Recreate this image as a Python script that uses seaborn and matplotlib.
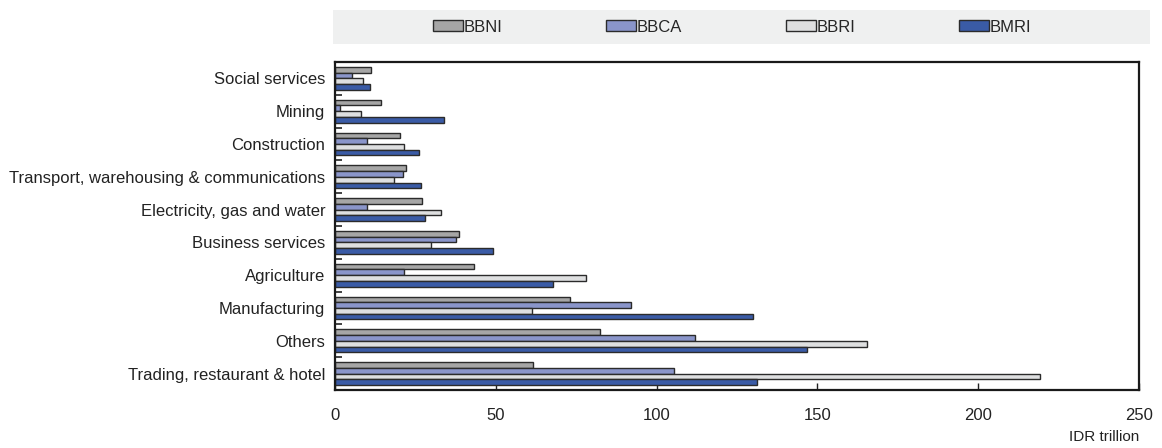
import matplotlib
matplotlib.use("Agg")
import matplotlib.pyplot as plt
from matplotlib.patches import Rectangle
from matplotlib.ticker import FixedLocator
import seaborn as sns
import pandas as pd

# Loans by economic sector for the four largest banks (IDR trillion)
sectors = [
    "Social services",
    "Mining",
    "Construction",
    "Transport, warehousing & communications",
    "Electricity, gas and water",
    "Business services",
    "Agriculture",
    "Manufacturing",
    "Others",
    "Trading, restaurant & hotel",
]
banks = ["BBNI", "BBCA", "BBRI", "BMRI"]
bbni = [11.3, 14.2, 20.1, 22.2, 27.1, 38.6, 43.2, 73.1, 82.3, 61.6]
bbca = [5.4, 1.7, 9.8, 21.0, 9.8, 37.7, 21.6, 92.1, 112.0, 105.3]
bbri = [8.6, 8.0, 21.4, 18.3, 33.1, 30.0, 78.1, 61.3, 165.4, 219.3]
bmri = [10.8, 33.9, 26.2, 26.7, 27.9, 49.0, 67.7, 130.1, 146.7, 131.1]
bank_colors = ["#a6a6a6", "#8a95ca", "#dedfe0", "#3a5ba6"]
x_ticks = [0, 50, 100, 150, 200, 250]

series = {"BBNI": bbni, "BBCA": bbca, "BBRI": bbri, "BMRI": bmri}
df = pd.DataFrame(
    [(s, b, v) for b in banks for s, v in zip(sectors, series[b])],
    columns=["sector", "bank", "value"],
)

sns.set_theme(style="white")
plt.rcParams["font.family"] = ["Liberation Sans", "DejaVu Sans"]

fig = plt.figure(figsize=(11.62, 4.48), dpi=100)
ax = fig.add_axes([335 / 1162, 1 - 390 / 448, (1139 - 335) / 1162, (390 - 62) / 448])

sns.barplot(
    data=df, y="sector", x="value", hue="bank", order=sectors, hue_order=banks,
    palette=bank_colors, orient="h", width=0.7, edgecolor="#2b2b2b",
    linewidth=1.0, ax=ax, legend=False, saturation=1,
)

ax.set_xlim(0, 250)
ax.set_ylim(len(sectors) - 0.5, -0.5)
ax.set_xticks(x_ticks)
ax.set_xticklabels([str(t) for t in x_ticks], fontsize=12, color="#222222")
ax.set_xlabel("")
ax.set_ylabel("")
ax.tick_params(axis="x", bottom=True, direction="in", length=5, width=1,
               color="#222222", pad=13)
ax.tick_params(axis="y", which="major", left=True, length=0, pad=7,
               labelsize=12, labelcolor="#222222")
ax.yaxis.set_minor_locator(FixedLocator([i + 0.5 for i in range(-1, len(sectors))]))
ax.tick_params(axis="y", which="minor", left=True, direction="in", length=5,
               width=1.2, color="#222222")

for sp in ax.spines.values():
    sp.set_visible(True)
    sp.set_color("#1a1a1a")
    sp.set_linewidth(1.6)

fig.text(1139 / 1162, 1 - 437 / 448, "IDR trillion", ha="right", va="center",
         fontsize=11, color="#222222")

# Legend strip across the top
fig.patches.append(Rectangle((333 / 1162, 1 - 44 / 448), (1150 - 333) / 1162, 34 / 448,
                             transform=fig.transFigure, facecolor="#eff0f0",
                             edgecolor="none", zorder=0))
handles = [Rectangle((0, 0), 1, 1, facecolor=c, edgecolor="#2b2b2b", linewidth=1.0)
           for c in bank_colors]
fig.legend(handles, banks, loc="center", bbox_to_anchor=(0.630, 1 - 27 / 448),
           ncol=4, frameon=False, handlelength=1.8, handleheight=0.69,
           handletextpad=0.05, columnspacing=6.2,
           prop={"family": ["Liberation Sans"], "size": 12})

fig.savefig("out.png", dpi=100)
